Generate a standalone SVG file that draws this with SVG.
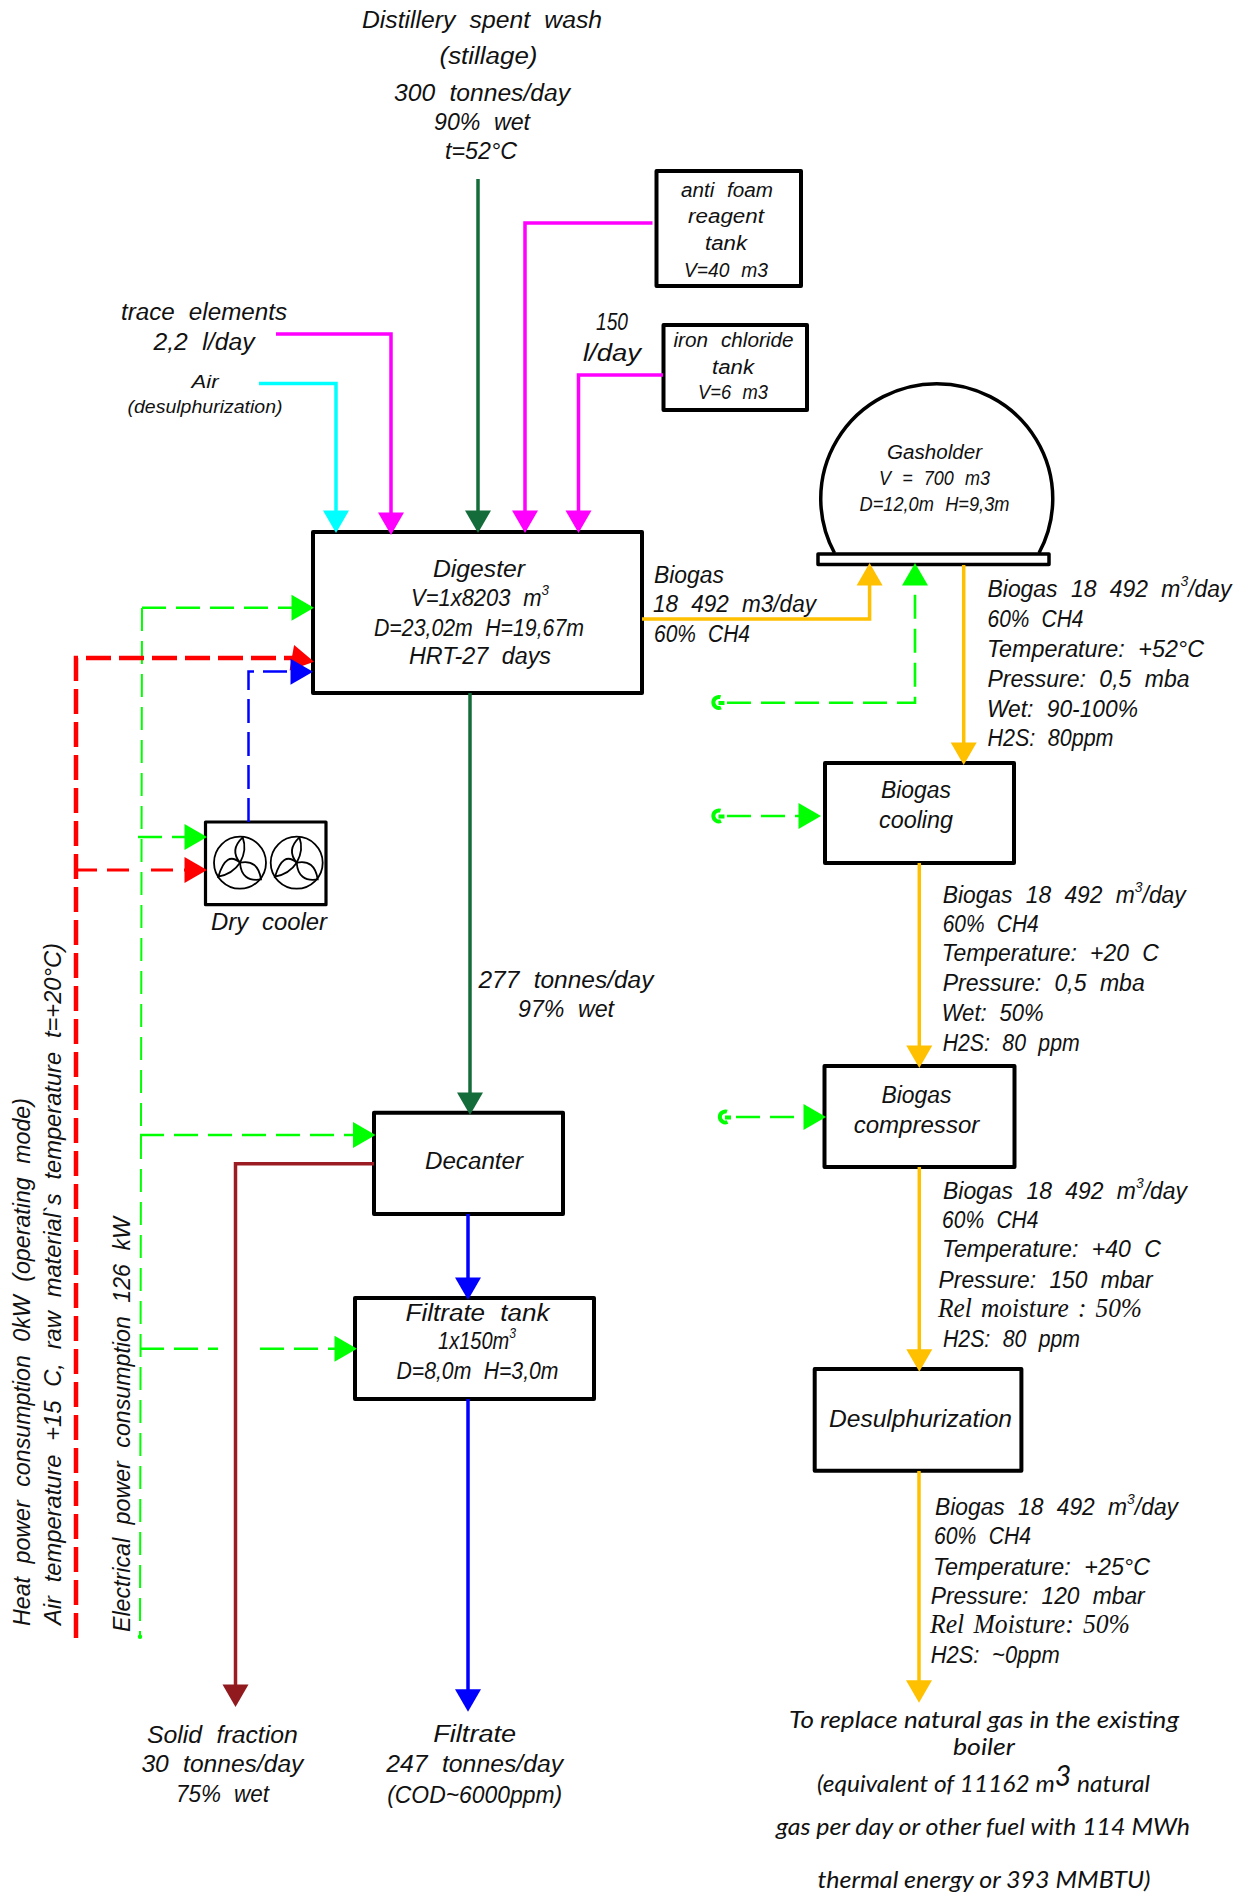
<svg xmlns="http://www.w3.org/2000/svg" xmlns:xlink="http://www.w3.org/1999/xlink" width="1250" height="1894" viewBox="0 0 1250 1894">
<style>
text{font-family:"Liberation Sans Narrow","Liberation Sans",sans-serif;font-style:italic;font-size:23px;fill:#111;word-spacing:7px}
.m{text-anchor:middle}
.s20{font-size:20.5px}
.s17{font-size:17.5px}
.serif{font-family:"Liberation Serif",serif;font-size:27px;word-spacing:3px}
.din{font-family:Lato,"Open Sans",sans-serif;font-size:24px;word-spacing:0;text-anchor:middle}
.box{fill:#fff;stroke:#000;stroke-width:4;stroke-linejoin:round}
.ln{fill:none;stroke-linejoin:miter}
.cy{stroke:#00ffff;stroke-width:3.5}.mg{stroke:#ff00ff;stroke-width:3.5}.dg{stroke:#146c3a;stroke-width:3.5}
.or{stroke:#ffc000;stroke-width:3.5}.bl{stroke:#0000ff;stroke-width:3.5}.br{stroke:#9b1c22;stroke-width:3.5}
.gd{stroke:#00ff00;stroke-width:2.6;stroke-dasharray:24 10}
.gv{stroke:#00ff00;stroke-width:2;stroke-dasharray:23 10}
.rd{stroke:#ff0000;stroke-width:4.5;stroke-dasharray:25 8}
.rt{stroke:#ff0000;stroke-width:2.8}
.bd{stroke:#0000ff;stroke-width:2.5;stroke-dasharray:24 9}
.ring{fill:none;stroke:#00ff00;stroke-width:4}
</style>
<defs>
<path id="ah" d="M0 0L-13 -22.5L13 -22.5Z" stroke-width="1.5" stroke-linejoin="round"/>
<g id="fan" fill="none" stroke="#000" stroke-width="1.8">
<ellipse cx="0" cy="0" rx="26" ry="26"/>
<path d="M0 0Q-10.7 -12.8 2.7 -25.3Q7.3 -12.8 0 0Z"/>
<path d="M0 0Q-13.8 -12.4 -21.7 14Q-7.2 11 0 0Z"/>
<path d="M0 0Q18 -3.7 21 16.7Q1.5 19.7 0 0Z"/>
</g>
<path id="ring" class="ring" d="M2 -5.300A5.500 5.500 0 1 0 2.500 5M0 0.500H6"/>
</defs>

<g id="node-digester">
<rect class="box" x="313" y="532" width="329" height="161"/>
<text lengthAdjust="spacingAndGlyphs" class="m" x="479" y="577" textLength="92">Digester</text>
<text lengthAdjust="spacingAndGlyphs" class="m" x="480" y="606" textLength="138">V=1x8203 m<tspan font-size="14" dy="-11">3</tspan></text>
<text lengthAdjust="spacingAndGlyphs" class="m" x="479" y="636" textLength="210">D=23,02m H=19,67m</text>
<text lengthAdjust="spacingAndGlyphs" class="m" x="480" y="664" textLength="142">HRT-27 days</text>
</g>
<g id="node-antifoam">
<rect class="box" x="656.500" y="171" width="144.500" height="115"/>
<text lengthAdjust="spacingAndGlyphs" class="m s20" x="727" y="197" textLength="92">anti foam</text>
<text lengthAdjust="spacingAndGlyphs" class="m s20" x="726" y="223" textLength="76">reagent</text>
<text lengthAdjust="spacingAndGlyphs" class="m s20" x="726" y="250" textLength="42">tank</text>
<text lengthAdjust="spacingAndGlyphs" class="m s20" x="726" y="277" textLength="84">V=40 m3</text>
</g>
<g id="node-iron">
<rect class="box" x="663.500" y="325" width="143.500" height="85"/>
<text lengthAdjust="spacingAndGlyphs" class="m s20" x="733.500" y="347" textLength="120">iron chloride</text>
<text lengthAdjust="spacingAndGlyphs" class="m s20" x="733" y="373.600" textLength="42">tank</text>
<text lengthAdjust="spacingAndGlyphs" class="m s20" x="733" y="399" textLength="70">V=6 m3</text>
</g>
<g id="node-gasholder">
<path d="M834.500 553A116 115 0 1 1 1039 553" fill="none" stroke="#000" stroke-width="3.500"/>
<rect class="box" x="818" y="554" width="231" height="10.500" style="stroke-width:3.5"/>
<text lengthAdjust="spacingAndGlyphs" class="m s20" x="934.500" y="459" textLength="95">Gasholder</text>
<text lengthAdjust="spacingAndGlyphs" class="m s20" x="934.500" y="485" textLength="111">V = 700 m3</text>
<text lengthAdjust="spacingAndGlyphs" class="m s20" x="934.500" y="511" textLength="150">D=12,0m H=9,3m</text>
</g>
<g id="node-cooling">
<rect class="box" x="825" y="763" width="189" height="100"/>
<text lengthAdjust="spacingAndGlyphs" class="m" x="916" y="798" textLength="70">Biogas</text>
<text lengthAdjust="spacingAndGlyphs" class="m" x="916" y="828" textLength="74">cooling</text>
</g>
<g id="node-compressor">
<rect class="box" x="824.500" y="1066" width="190" height="101"/>
<text lengthAdjust="spacingAndGlyphs" class="m" x="916.500" y="1102.700" textLength="70">Biogas</text>
<text lengthAdjust="spacingAndGlyphs" class="m" x="916.500" y="1132.700" textLength="125.600">compressor</text>
</g>
<g id="node-desulph">
<rect class="box" x="814.700" y="1369" width="206.700" height="101.700"/>
<text lengthAdjust="spacingAndGlyphs" x="829" y="1426.700" textLength="183">Desulphurization</text>
</g>
<g id="node-drycooler">
<rect class="box" x="205.500" y="822" width="120.500" height="82.700" style="stroke-width:3.2"/>
<use xlink:href="#fan" href="#fan" x="240" y="862.700"/>
<use xlink:href="#fan" href="#fan" x="296.700" y="862.700"/>
<text lengthAdjust="spacingAndGlyphs" class="m" x="269" y="930" textLength="116">Dry cooler</text>
</g>
<g id="node-decanter">
<rect class="box" x="374" y="1112.700" width="189" height="101.300"/>
<text lengthAdjust="spacingAndGlyphs" class="m" x="474" y="1169" textLength="98">Decanter</text>
</g>
<g id="node-filtrate">
<rect class="box" x="355" y="1298" width="239" height="101"/>
<text lengthAdjust="spacingAndGlyphs" class="m" x="477.500" y="1320.700" textLength="144">Filtrate tank</text>
<text lengthAdjust="spacingAndGlyphs" class="m" x="477" y="1349" textLength="78">1x150m<tspan font-size="14" dy="-11">3</tspan></text>
<text lengthAdjust="spacingAndGlyphs" class="m" x="477.500" y="1379" textLength="162">D=8,0m H=3,0m</text>
</g>

<g id="connectors">
<path class="ln dg" d="M478 179V515"/>
<path class="ln cy" d="M259 383.600H336V515"/>
<path class="ln mg" d="M276 334H391V517"/>
<path class="ln mg" d="M652.500 223H525V515"/>
<path class="ln mg" d="M663 375H578.500V515"/>
<path class="ln dg" d="M470 693V1095"/>
<path class="ln br" d="M374 1163.700H235.500V1688"/>
<path class="ln bl" d="M468 1214V1280"/>
<path class="ln bl" d="M468 1399V1692"/>
<path class="ln or" d="M642 619H869.600V583"/>
<path class="ln or" d="M963.700 565V745"/>
<path class="ln or" d="M919.300 863V1049"/>
<path class="ln or" d="M919.300 1167V1352"/>
<path class="ln or" d="M919 1471V1683"/>
<path class="ln gv" d="M142 608L140 1636"/>
<path class="ln gd" d="M142 607.700H293"/>
<path class="ln gd" d="M138 837H188"/>
<path class="ln gd" d="M140 1135H355"/>
<path class="ln gd" d="M140 1348.700H218M260 1348.700H336"/>
<path class="ln gd" d="M727 702.700H915V584"/>
<path class="ln gd" d="M727 816H799"/>
<path class="ln gd" d="M736 1117H806"/>
<path class="ln rd" d="M76 1638V658H295"/>
<path class="ln rt" d="M76 870H97M107 870H129M151 870H173M184 870H190"/>
<path class="ln bd" d="M248.500 822V671.500H292"/>
<circle cx="140" cy="1636.700" r="2.200" fill="#00ff00"/>
<use href="#ah" fill="#00ffff" transform="translate(336 533)"/>
<use href="#ah" fill="#ff00ff" transform="translate(391 535)"/>
<use href="#ah" fill="#146c3a" transform="translate(478 533)"/>
<use href="#ah" fill="#ff00ff" transform="translate(525 533)"/>
<use href="#ah" fill="#ff00ff" transform="translate(578.500 533)"/>
<use href="#ah" fill="#00ff00" transform="translate(314 607.700) rotate(-90)"/>
<use href="#ah" fill="#ff0000" transform="translate(314 661.700) rotate(-80)"/>
<use href="#ah" fill="#0000ff" transform="translate(313 671.700) rotate(-90)"/>
<use href="#ah" fill="#00ff00" transform="translate(207 837) rotate(-90)"/>
<use href="#ah" fill="#ff0000" transform="translate(207 870) rotate(-90)"/>
<use href="#ah" fill="#00ff00" transform="translate(375.500 1135) rotate(-90)"/>
<use href="#ah" fill="#00ff00" transform="translate(357 1348.700) rotate(-90)"/>
<use href="#ah" fill="#146c3a" transform="translate(470 1115)"/>
<use href="#ah" fill="#0000ff" transform="translate(468 1300)"/>
<use href="#ah" fill="#0000ff" transform="translate(468 1711.700)"/>
<use href="#ah" fill="#901a1e" transform="translate(235.500 1707)"/>
<use href="#ah" fill="#ffc000" transform="translate(869.600 563) rotate(180)"/>
<use href="#ah" fill="#00ff00" transform="translate(915 563) rotate(180)"/>
<use href="#ah" fill="#ffc000" transform="translate(963.700 765)"/>
<use href="#ah" fill="#ffc000" transform="translate(919.300 1068)"/>
<use href="#ah" fill="#ffc000" transform="translate(919.300 1371.700)"/>
<use href="#ah" fill="#ffc000" transform="translate(919 1702.700)"/>
<use href="#ah" fill="#00ff00" transform="translate(821 816) rotate(-90)"/>
<use href="#ah" fill="#00ff00" transform="translate(826 1117) rotate(-90)"/>
<use href="#ring" transform="translate(718.500 702.500)"/>
<use href="#ring" transform="translate(718.500 816)"/>
<use href="#ring" transform="translate(725 1117)"/>
</g>

<g id="labels">
<text lengthAdjust="spacingAndGlyphs" class="m" x="482" y="28" textLength="240">Distillery spent wash</text>
<text lengthAdjust="spacingAndGlyphs" class="m" x="488.500" y="64" textLength="98">(stillage)</text>
<text lengthAdjust="spacingAndGlyphs" class="m" x="482" y="101" textLength="176">300 tonnes/day</text>
<text lengthAdjust="spacingAndGlyphs" class="m" x="482" y="130" textLength="96">90% wet</text>
<text lengthAdjust="spacingAndGlyphs" class="m" x="481" y="159" textLength="72">t=52°C</text>
<text lengthAdjust="spacingAndGlyphs" class="m" x="204" y="320" textLength="166">trace elements</text>
<text lengthAdjust="spacingAndGlyphs" class="m" x="204" y="350" textLength="101">2,2 l/day</text>
<text lengthAdjust="spacingAndGlyphs" class="m s17" x="205" y="387.500" textLength="27">Air</text>
<text lengthAdjust="spacingAndGlyphs" class="m s17" x="205" y="412.500" textLength="155">(desulphurization)</text>
<text lengthAdjust="spacingAndGlyphs" class="m" x="612" y="330" textLength="32">150</text>
<text lengthAdjust="spacingAndGlyphs" class="m" x="612" y="361" textLength="58">l/day</text>
<text lengthAdjust="spacingAndGlyphs" x="654" y="583" textLength="70">Biogas</text>
<text lengthAdjust="spacingAndGlyphs" x="653" y="612" textLength="163">18 492 m3/day</text>
<text lengthAdjust="spacingAndGlyphs" x="654" y="641.700" textLength="96">60% CH4</text>
<text lengthAdjust="spacingAndGlyphs" x="987.500" y="597" textLength="244">Biogas 18 492 m<tspan font-size="14" dy="-11">3</tspan><tspan dy="11">/day</tspan></text>
<text lengthAdjust="spacingAndGlyphs" x="987.500" y="626.700" textLength="96">60% CH4</text>
<text lengthAdjust="spacingAndGlyphs" x="987" y="656.700" textLength="217">Temperature: +52°C</text>
<text lengthAdjust="spacingAndGlyphs" x="987.500" y="686.700" textLength="202">Pressure: 0,5 mba</text>
<text lengthAdjust="spacingAndGlyphs" x="987" y="716.700" textLength="151">Wet: 90-100%</text>
<text lengthAdjust="spacingAndGlyphs" x="987.500" y="745.700" textLength="126">H2S: 80ppm</text>
<text lengthAdjust="spacingAndGlyphs" x="942.700" y="902.700" textLength="243">Biogas 18 492 m<tspan font-size="14" dy="-11">3</tspan><tspan dy="11">/day</tspan></text>
<text lengthAdjust="spacingAndGlyphs" x="942.700" y="931.700" textLength="96">60% CH4</text>
<text lengthAdjust="spacingAndGlyphs" x="941.700" y="961" textLength="217">Temperature: +20 C</text>
<text lengthAdjust="spacingAndGlyphs" x="942.700" y="991" textLength="202">Pressure: 0,5 mba</text>
<text lengthAdjust="spacingAndGlyphs" x="941.700" y="1021" textLength="102">Wet: 50%</text>
<text lengthAdjust="spacingAndGlyphs" x="942.700" y="1051" textLength="137">H2S: 80 ppm</text>
<text lengthAdjust="spacingAndGlyphs" class="m" x="566" y="988" textLength="175">277 tonnes/day</text>
<text lengthAdjust="spacingAndGlyphs" class="m" x="566" y="1016.700" textLength="96">97% wet</text>
<text lengthAdjust="spacingAndGlyphs" x="943" y="1199" textLength="244">Biogas 18 492 m<tspan font-size="14" dy="-11">3</tspan><tspan dy="11">/day</tspan></text>
<text lengthAdjust="spacingAndGlyphs" x="942" y="1228" textLength="96.500">60% CH4</text>
<text lengthAdjust="spacingAndGlyphs" x="942" y="1257" textLength="219">Temperature: +40 C</text>
<text lengthAdjust="spacingAndGlyphs" x="938.600" y="1287.700" textLength="214">Pressure: 150 mbar</text>
<text lengthAdjust="spacingAndGlyphs" class="serif" x="938" y="1316.700" textLength="204">Rel moisture : 50%</text>
<text lengthAdjust="spacingAndGlyphs" x="943" y="1346.700" textLength="137">H2S: 80 ppm</text>
<text lengthAdjust="spacingAndGlyphs" x="935" y="1515" textLength="243">Biogas 18 492 m<tspan font-size="14" dy="-11">3</tspan><tspan dy="11">/day</tspan></text>
<text lengthAdjust="spacingAndGlyphs" x="934" y="1544" textLength="97">60% CH4</text>
<text lengthAdjust="spacingAndGlyphs" x="933" y="1575" textLength="217">Temperature: +25°C</text>
<text lengthAdjust="spacingAndGlyphs" x="930.700" y="1604" textLength="214">Pressure: 120 mbar</text>
<text lengthAdjust="spacingAndGlyphs" class="serif" x="930" y="1633" textLength="200">Rel Moisture: 50%</text>
<text lengthAdjust="spacingAndGlyphs" x="930.700" y="1663" textLength="129">H2S: ~0ppm</text>
<text lengthAdjust="spacingAndGlyphs" class="din" x="984" y="1728" textLength="390">To replace natural gas in the existing</text>
<text lengthAdjust="spacingAndGlyphs" class="din" x="984" y="1755" textLength="62">boiler</text>
<text lengthAdjust="spacingAndGlyphs" class="din" x="983.500" y="1791.700" textLength="333">(equivalent of 11162 m<tspan font-size="28" dy="-6">3</tspan><tspan dy="6"> natural</tspan></text>
<text lengthAdjust="spacingAndGlyphs" class="din" x="983" y="1835" textLength="414">gas per day or other fuel with 114 MWh</text>
<text lengthAdjust="spacingAndGlyphs" class="din" x="984" y="1888" textLength="333">thermal energy or 393 MMBTU)</text>
<text lengthAdjust="spacingAndGlyphs" class="m" x="222.400" y="1743" textLength="151">Solid fraction</text>
<text lengthAdjust="spacingAndGlyphs" class="m" x="222.400" y="1772" textLength="162">30 tonnes/day</text>
<text lengthAdjust="spacingAndGlyphs" class="m" x="222.400" y="1802" textLength="93">75% wet</text>
<text lengthAdjust="spacingAndGlyphs" class="m" x="474.700" y="1741.700" textLength="83">Filtrate</text>
<text lengthAdjust="spacingAndGlyphs" class="m" x="474.700" y="1771.700" textLength="177">247 tonnes/day</text>
<text lengthAdjust="spacingAndGlyphs" class="m" x="474.700" y="1803" textLength="175">(COD~6000ppm)</text>
<text lengthAdjust="spacingAndGlyphs" transform="translate(30 1626) rotate(-90)" textLength="528">Heat power consumption 0kW (operating mode)</text>
<text lengthAdjust="spacingAndGlyphs" transform="translate(61 1625) rotate(-90)" textLength="682">Air temperature +15 C, raw material`s temperature t=+20°C)</text>
<text lengthAdjust="spacingAndGlyphs" transform="translate(130 1632) rotate(-90)" textLength="415">Electrical power consumption 126 kW</text>
</g>
</svg>
